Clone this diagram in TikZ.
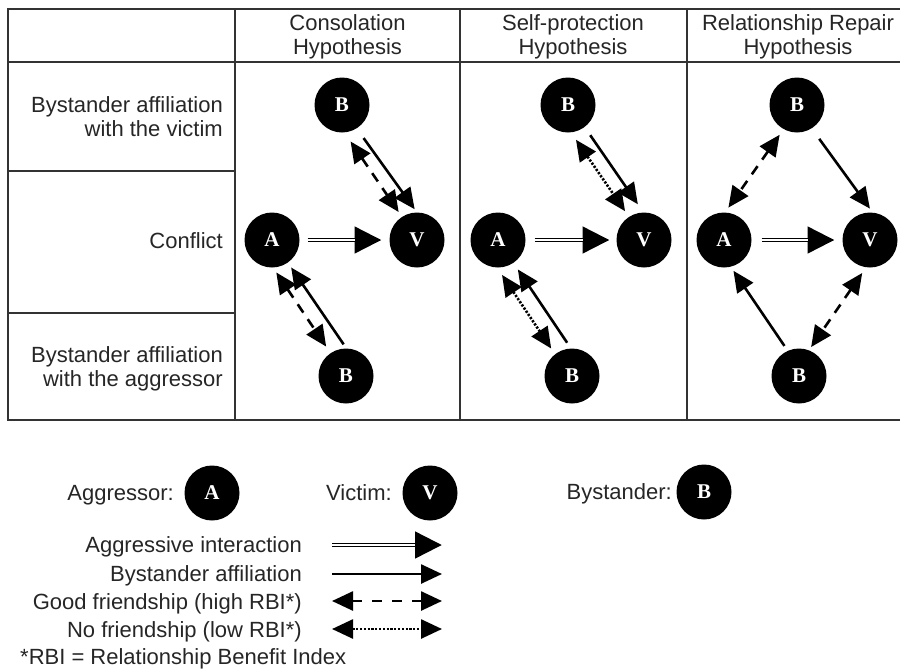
\documentclass[tikz,border=0pt]{standalone}
\usepackage{fontspec}
\setmainfont{Liberation Sans}
\newfontfamily\letterfont{Liberation Serif}
\usetikzlibrary{arrows.meta}
\tikzset{
  person/.style={circle, fill=black, minimum size=55pt, inner sep=0pt, outer sep=0pt,
    text=white, font=\letterfont\bfseries\fontsize{21}{21}\selectfont},
  txt/.style={font=\fontsize{22}{24}\selectfont, inner sep=0pt, text=black!85},
  grid/.style={line width=1.3pt, draw=black!80},
  aff/.style={line width=2.6pt, -{Triangle[length=21pt,width=19pt]}},
  good/.style={line width=2.6pt, dash pattern=on 10pt off 8pt,
    {Triangle[length=21pt,width=19pt]}-{Triangle[length=21pt,width=19pt]}},
  nofr/.style={line width=2.6pt, dash pattern=on 2.2pt off 1.6pt,
    {Triangle[length=21pt,width=19pt]}-{Triangle[length=21pt,width=19pt]}},
  aggout/.style={line width=4.8pt, -{Triangle[length=27pt,width=26pt]}},
  aggin/.style={draw=white, line width=1.8pt},
}
\begin{document}
\begin{tikzpicture}[x=1pt,y=-1pt]
\useasboundingbox (0,0) rectangle (900,670);
\fill[white] (0,0) rectangle (900,670);

% table
\draw[grid] (900,9) -- (8,9) -- (8,420) -- (900,420);
\draw[grid] (8,62) -- (900,62);
\draw[grid] (8,171) -- (235,171);
\draw[grid] (8,313) -- (235,313);
\draw[grid] (235,9) -- (235,420);
\draw[grid] (460,9) -- (460,420);
\draw[grid] (687,9) -- (687,420);

% headers
\node[txt, align=center] (h1) at (347.5,37) {Consolation\\Hypothesis};
\node[txt, align=center] (h2) at (573,37) {Self-protection\\Hypothesis};
\node[txt, align=center] (h3) at (798,37) {Relationship Repair\\Hypothesis};

% row labels
\node[txt, align=right, anchor=east] (r1) at (223,117) {Bystander affiliation\\with the victim};
\node[txt, anchor=base east] (r2) at (223,248) {Conflict};
\node[txt, align=right, anchor=east] (r3) at (223,369) {Bystander affiliation\\with the aggressor};

% column 1
\node[person] (B1) at (342,105) {B};
\node[person] (A1) at (272,240) {A};
\node[person] (V1) at (417,240) {V};
\node[person] (C1) at (346,376) {B};
\draw[aggout, shorten <=8pt, shorten >=8pt] (A1) -- (V1);
\draw[aggin, shorten <=7pt, shorten >=35pt] (A1) -- (V1);
\draw[aff, shorten <=12pt, shorten >=4pt] (B1.-58) -- (V1.90);
\draw[good, shorten <=11pt, shorten >=6pt] (B1.-85) -- (V1.123);
\draw[good, shorten <=6pt, shorten >=8pt] (A1.-88) -- (C1.124);
\draw[aff, shorten <=5pt, shorten >=6pt] (C1.89) -- (A1.-55);

% column 2
\node[person] (B2) at (568,105) {B};
\node[person] (A2) at (498,240) {A};
\node[person] (V2) at (644,240) {V};
\node[person] (C2) at (572,376) {B};
\draw[aggout, shorten <=9pt, shorten >=7pt] (A2) -- (V2);
\draw[aggin, shorten <=8pt, shorten >=34pt] (A2) -- (V2);
\draw[aff, shorten <=10pt, shorten >=10pt] (B2.-53) -- (V2.91);
\draw[nofr, shorten <=9pt, shorten >=7pt] (B2.-84) -- (V2.123);
\draw[nofr, shorten <=9pt, shorten >=7pt] (A2.-92) -- (C2.128);
\draw[aff, shorten <=7pt, shorten >=8pt] (C2.92) -- (A2.-56);

% column 3
\node[person] (B3) at (797,105) {B};
\node[person] (A3) at (724,240) {A};
\node[person] (V3) at (870,240) {V};
\node[person] (C3) at (799,376) {B};
\draw[aggout, shorten <=10pt, shorten >=8pt] (A3) -- (V3);
\draw[aggin, shorten <=9pt, shorten >=35pt] (A3) -- (V3);
\draw[good, shorten <=7pt, shorten >=6pt] (B3.-119) -- (A3.88);
\draw[aff, shorten <=13pt, shorten >=5pt] (B3.-58) -- (V3.84);
\draw[aff, shorten <=6pt, shorten >=5pt] (C3.114) -- (A3.-76);
\draw[good, shorten <=7pt, shorten >=4pt] (V3.-98) -- (C3.69);

% legend: symbols
\node[txt, anchor=base east] (lat) at (174,500) {Aggressor:};
\node[person] (LA) at (212,493) {A};
\node[txt, anchor=base east] (lvt) at (392,500) {Victim:};
\node[person] (LV) at (430,493) {V};
\node[txt, anchor=base east] (lbt) at (672,499) {Bystander:};
\node[person] (LB) at (704,492) {B};

% legend: connectors
\node[txt, anchor=base east] (t1) at (302,552) {Aggressive interaction};
\node[txt, anchor=base east] (t2) at (302,581) {Bystander affiliation};
\node[txt, anchor=base east] (t3) at (302,609) {Good friendship (high RBI*)};
\node[txt, anchor=base east] (t4) at (302,637) {No friendship (low RBI*)};
\node[txt, anchor=base west] (t5) at (20,664) {*RBI = Relationship Benefit Index};

\coordinate (ag1) at (332,545); \coordinate (ag2) at (442,545);
\coordinate (af1) at (332,574); \coordinate (af2) at (442,574);
\coordinate (gf1) at (332,601); \coordinate (gf2) at (442,601);
\coordinate (nf1) at (332,629); \coordinate (nf2) at (442,629);
\draw[aggout] (ag1) -- (ag2);
\draw[aggin, shorten <=-1pt, shorten >=27pt] (ag1) -- (ag2);
\draw[aff] (af1) -- (af2);
\draw[good, dash pattern=on 10pt off 10pt] (gf1) -- (gf2);
\draw[nofr] (nf1) -- (nf2);
\end{tikzpicture}
\end{document}
